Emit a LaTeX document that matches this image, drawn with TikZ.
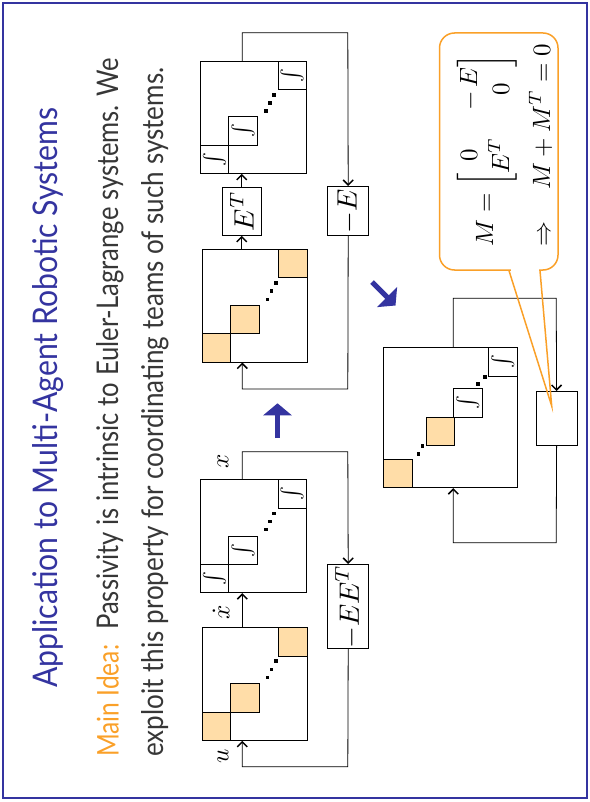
\documentclass[tikz,border=0pt]{standalone}
\usepackage{amsmath}
\usepackage{graphicx}
\usepackage{fontspec}
\usetikzlibrary{arrows.meta}
\newfontfamily\slidefont{Lato}
\definecolor{slblue}{RGB}{52,52,160}
\definecolor{slorange}{RGB}{250,160,40}
\definecolor{sqfill}{RGB}{255,221,168}
\definecolor{txtgray}{RGB}{55,55,55}
\newcommand{\mth}[2]{\scalebox{#1}{\fontsize{10}{12.8}\selectfont$#2$}}
\newcommand{\rint}{\rotatebox{90}{\mth{2.1}{\int}}}
\begin{document}
\begin{tikzpicture}[x=1pt,y=-1pt,
  blk/.style={draw=black, line width=0.8pt, inner sep=0pt, anchor=north west},
  sq/.style={draw=black, line width=0.7pt, inner sep=0pt, minimum size=28.4pt, anchor=north west},
  osq/.style={sq, fill=sqfill},
  isq/.style={sq},
  gain/.style={draw=black, line width=0.8pt, inner sep=0pt, anchor=north west},
  lbl/.style={rotate=90, inner sep=0pt},
  conn/.style={line width=0.8pt, -{Straight Barb[length=5pt,width=10pt,line width=1.5pt]}},
  bigarrow/.style={slblue, line width=5pt, -{Triangle[length=12pt,width=28pt]}},
  dotsq/.style={fill=black},
  slide/.style={rotate=90, anchor=base west, inner sep=0pt},
]
\useasboundingbox (0,0) rectangle (589,802);
\draw[slblue, line width=1.5pt] (3,3) rectangle (587,798);

% texts
\node[slide, text=slblue] (title) at (57,688)
  {\resizebox{580pt}{25pt}{\slidefont\fontsize{28}{28}\selectfont Application to Multi-Agent Robotic Systems}};
\node[slide, text=txtgray] (line1) at (118.5,757)
  {\slidefont\fontsize{24}{24}\selectfont\resizebox{112pt}{22pt}{\color{slorange}Main Idea:}\hspace{15pt}\resizebox{572pt}{22pt}{Passivity is intrinsic to Euler-Lagrange systems. We}};
\node[slide, text=txtgray] (line2) at (163.3,757)
  {\resizebox{689pt}{22pt}{\slidefont\fontsize{24}{24}\selectfont exploit this property for coordinating teams of such systems.}};

% ---------- upper left system ----------
\node[blk, minimum width=106pt, minimum height=112pt] (intA) at (200,61) {};
\node[isq] (intA1) at (200,144.6) {\rint};
\node[isq] (intA2) at (228.4,116.2) {\rint};
\node[isq] (intA3) at (277.6,61) {\rint};
\fill[dotsq] (264.2,108.9) rectangle ++(3.7,3.7);
\fill[dotsq] (268.2,100.9) rectangle ++(3.7,3.7);
\fill[dotsq] (272.2,92.9) rectangle ++(3.7,3.7);

\node[blk, minimum width=105pt, minimum height=112.7pt] (ordA) at (201.7,249) {};
\node[osq] (ordA1) at (201.7,333.3) {};
\node[osq] (ordA2) at (230.1,304.9) {};
\node[osq] (ordA3) at (278.3,249) {};
\fill[dotsq] (265.5,297.5) rectangle ++(3.7,3.7);
\fill[dotsq] (269.5,289.2) rectangle ++(3.7,3.7);
\fill[dotsq] (273.9,280.9) rectangle ++(3.7,3.7);

\node[gain, minimum width=39.3pt, minimum height=48.3pt] (ET) at (221.7,186.7) {\rotatebox{90}{\mth{2.8}{E^T}}};
\node[gain, minimum width=41pt, minimum height=49.3pt] (mE) at (327.3,186) {\rotatebox{90}{\mth{2.8}{-E}}};

\coordinate (a1) at (242.3,32.7);
\coordinate (a2) at (347.8,32.7);
\coordinate (a3) at (347.8,389);
\coordinate (a4) at (242.3,389);
\draw[conn] (ET.south |- ordA.north) -- (ET.south);
\draw[conn] (ET.north) -- (ET.north |- intA.south);
\draw[conn] (a1 |- intA.north) -- (a1) -- (a2) -- (mE.north);
\draw[conn] (mE.south) -- (a3) -- (a4) -- (a4 |- ordA.south);

% ---------- lower left system ----------
\node[blk, minimum width=106pt, minimum height=113pt] (intB) at (200,479.3) {};
\node[isq] (intB1) at (200,563.9) {\rint};
\node[isq] (intB2) at (228.4,535.5) {\rint};
\node[isq] (intB3) at (277.6,479.3) {\rint};
\fill[dotsq] (264.2,527.5) rectangle ++(3.7,3.7);
\fill[dotsq] (268.2,519.5) rectangle ++(3.7,3.7);
\fill[dotsq] (272.2,511.5) rectangle ++(3.7,3.7);

\node[blk, minimum width=105pt, minimum height=112.7pt] (ordB) at (201.7,627.3) {};
\node[osq] (ordB1) at (201.7,711.6) {};
\node[osq] (ordB2) at (230.1,683.2) {};
\node[osq] (ordB3) at (278.3,627.3) {};
\fill[dotsq] (265.5,675.5) rectangle ++(3.7,3.7);
\fill[dotsq] (269.5,667.5) rectangle ++(3.7,3.7);
\fill[dotsq] (273.9,659.2) rectangle ++(3.7,3.7);

\node[gain, minimum width=41pt, minimum height=84.3pt] (mEET) at (327.3,564) {\rotatebox{90}{\mth{2.8}{-EE^T}}};

\coordinate (b1) at (242.3,451.7);
\coordinate (b2) at (347.8,451.7);
\coordinate (b3) at (347.8,766.7);
\coordinate (b4) at (242.3,766.7);
\draw[conn] (b1 |- ordB.north) -- (b1 |- intB.south);
\draw[conn] (b1 |- intB.north) -- (b1) -- (b2) -- (mEET.north);
\draw[conn] (mEET.south) -- (b3) -- (b4) -- (b4 |- ordB.south);

\node[lbl] (lx) at (223,461.7) {\mth{2.5}{x}};
\node[lbl] (lxd) at (221,612) {\mth{2.5}{\dot x}};
\node[lbl] (lu) at (223,756.7) {\mth{2.5}{u}};

% ---------- big arrows ----------
\draw[bigarrow] (277.5,438) -- (277.5,403.3);
\draw[bigarrow] (372,282) -- (395.5,305.5);

% ---------- right system ----------
\node[blk, minimum width=133.4pt, minimum height=140pt] (big) at (383.3,347.3) {};
\node[osq] (big1) at (383.3,458.9) {};
\node[osq] (big2) at (425.6,416.6) {};
\node[isq] (big3) at (453.3,388.3) {\rint};
\node[isq] (big4) at (488.3,347.3) {\rint};
\fill[dotsq] (416.5,452.2) rectangle ++(3.7,3.7);
\fill[dotsq] (420.5,443.9) rectangle ++(3.7,3.7);
\fill[dotsq] (475.9,382.2) rectangle ++(3.7,3.7);
\fill[dotsq] (483.2,374.9) rectangle ++(3.7,3.7);

\node[blk, minimum width=41pt, minimum height=54pt] (Mbox) at (535.7,391) {};

\coordinate (c1) at (453.3,298.3);
\coordinate (c2) at (556.2,298.3);
\coordinate (c3) at (556.2,542.7);
\coordinate (c4) at (453.3,542.7);
\draw[conn] (c1 |- big.north) -- (c1) -- (c2) -- (Mbox.north);
\draw[conn] (Mbox.south) -- (c3) -- (c4) -- (c4 |- big.south);

% ---------- callout ----------
\draw[slorange, line width=1.5pt, rounded corners=15pt, fill=white] (439.5,33) rectangle (558,270);
\draw[white, line width=3pt] (510.5,270) -- (538.5,270);
\coordinate (tip) at (551.7,406);
\draw[slorange, line width=1.5pt, line join=miter] (509,270.7) -- (tip) -- (540,270.7);

\node[slide] (meq) at (493,247)
  {\setlength{\arraycolsep}{5.4pt}\mth{2.5}{M=\begin{bmatrix}0 & -\,E\\ E^T & 0\end{bmatrix}}};
\node[slide] (mimp) at (550,247)
  {\mth{2.5}{\Rightarrow\quad M+M^T=0}};
\end{tikzpicture}
\end{document}
